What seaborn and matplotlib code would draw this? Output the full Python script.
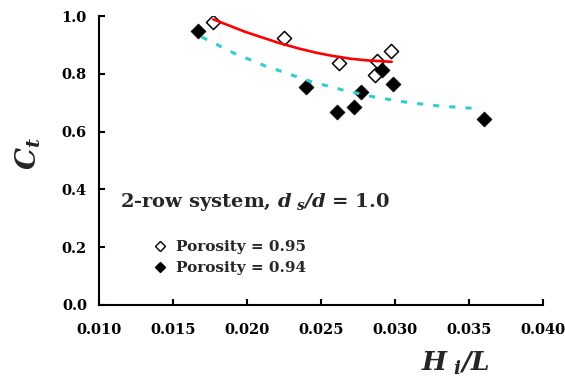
import numpy as np
import matplotlib
matplotlib.use('Agg')
import matplotlib.pyplot as plt
from matplotlib.lines import Line2D
import seaborn as sns

x_open = [0.01767, 0.02251, 0.02619, 0.02876, 0.02867, 0.02975]
y_open = [0.979, 0.925, 0.838, 0.844, 0.795, 0.879]
x_fill = [0.01669, 0.02396, 0.02610, 0.02725, 0.02770, 0.02914, 0.02984, 0.03602]
y_fill = [0.948, 0.754, 0.668, 0.686, 0.738, 0.814, 0.764, 0.645]

# Trend lines as drawn in the reference
fit95_x = [0.01771, 0.01985, 0.02210, 0.02357, 0.02470, 0.02583, 0.02695, 0.02809, 0.02978]
fit95_y = [0.989, 0.946, 0.908, 0.887, 0.873, 0.862, 0.853, 0.847, 0.842]
fit94_x = [0.01692, 0.01906, 0.02120, 0.02436, 0.02650, 0.02871, 0.03090, 0.03298, 0.03530]
fit94_y = [0.928, 0.873, 0.828, 0.773, 0.744, 0.719, 0.701, 0.689, 0.681]

xticks = [0.010, 0.015, 0.020, 0.025, 0.030, 0.035, 0.040]
xtick_labels = ['0.010', '0.015', '0.020', '0.025', '0.030', '0.035', '0.040']
yticks = [0.0, 0.2, 0.4, 0.6, 0.8, 1.0]
ytick_labels = ['0.0', '0.2', '0.4', '0.6', '0.8', '1.0']
legend_labels = ['Porosity = 0.95', 'Porosity = 0.94']

sns.set_style('ticks')
plt.rcParams['font.family'] = ['DejaVu Serif', 'DejaVu Sans']
plt.rcParams['font.weight'] = 'bold'
plt.rcParams['mathtext.fontset'] = 'dejavuserif'

fig = plt.figure(figsize=(5.65, 3.76), dpi=100)
ax = fig.add_axes([0.176, 0.189, 0.7845, 0.768])

# markers
sns.scatterplot(x=x_open, y=y_open, marker='D', s=52, color='white',
                edgecolor='black', linewidth=1.1, ax=ax, zorder=2)
sns.scatterplot(x=x_fill, y=y_fill, marker='D', s=58, color='black',
                edgecolor='black', linewidth=0.5, ax=ax, zorder=2)

# trend lines on top
sns.lineplot(x=fit95_x, y=fit95_y, color='#ff0000', linewidth=1.9,
             ax=ax, zorder=3)
sns.lineplot(x=fit94_x, y=fit94_y, color='#33cccc', linewidth=2.2,
             linestyle=(0, (2, 3.3)), ax=ax, zorder=3)

ax.set_xlim(0.010, 0.040)
ax.set_ylim(0.0, 1.0)
ax.set_xticks(xticks)
ax.set_xticklabels(xtick_labels)
ax.set_yticks(yticks)
ax.set_yticklabels(ytick_labels)
ax.set_xlabel('')
ax.set_ylabel('')

sns.despine(ax=ax)
for side in ['left', 'bottom']:
    ax.spines[side].set_linewidth(1.5)
    ax.spines[side].set_color('black')
ax.tick_params(direction='in', length=4.5, width=1.5, colors='black',
               labelsize=10.5)
ax.tick_params(axis='x', pad=13)
ax.tick_params(axis='y', pad=9)
for lab in ax.get_xticklabels() + ax.get_yticklabels():
    lab.set_fontweight('bold')

# axis titles
fig.text(28 / 565, 1 - 153 / 376, r'$\mathbfit{C_t}$', rotation=90,
         ha='center', va='center', fontsize=20)
fig.text(455 / 565, 1 - 363 / 376,
         r'$\mathbfit{H}_{\ \mathbfit{i}}\mathbfit{/L}$',
         ha='center', va='center', fontsize=19)

# annotation
ax.text(0.0465, 0.357,
        '2-row system, ' + r'$\mathbfit{d}_{\ \mathbfit{s}}\mathbfit{/d}$' + ' = 1.0',
        transform=ax.transAxes, ha='left', va='center', fontsize=14,
        fontweight='bold')

handles = [
    Line2D([], [], marker='D', ls='none', mfc='white', mec='black', mew=1.0, ms=5),
    Line2D([], [], marker='D', ls='none', mfc='black', mec='black', mew=1.0, ms=5),
]
ax.legend(handles, legend_labels, loc='center left', bbox_to_anchor=(0.1245, 0.164),
          frameon=False, borderpad=0, borderaxespad=0, handlelength=0.7,
          handletextpad=0.7, labelspacing=0.45,
          prop={'size': 11, 'weight': 'bold'})

fig.savefig('out.png', dpi=100)
